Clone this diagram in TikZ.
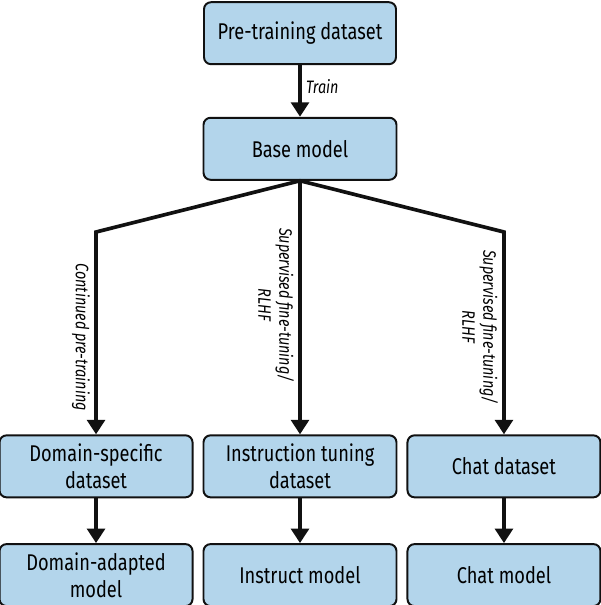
\documentclass[tikz,border=0pt]{standalone}
\usepackage{fontspec}
\setmainfont{Fira Sans}[FakeStretch=0.8]
\usetikzlibrary{positioning,arrows.meta}
\definecolor{llmblue}{HTML}{B3D5EB}
\definecolor{llmink}{HTML}{111111}
\tikzset{
  stage/.style={draw=llmink,fill=llmblue,line width=1.4pt,rounded corners=5pt,minimum height=15.5mm,minimum width=48.25mm,font=\fontsize{16.2}{19.5}\selectfont,align=center,inner sep=1pt},
  flow/.style={-{Triangle[length=3.6mm,width=4.4mm]},line width=2.6pt,draw=llmink},
  how/.style={font=\fontsize{12.8}{15}\selectfont\itshape,align=center,inner sep=3pt},
}
\begin{document}
\begin{tikzpicture}[node distance=12.9mm and 2.25mm]
  \useasboundingbox (0,0) rectangle (15,-15.125);
  \node[stage,minimum width=48mm] (pretrain) at (7.5,-0.83) {Pre-training dataset};
  \node[stage,below=of pretrain] (base) {Base model};
  \node[stage,below=63.4mm of base] (instds) {Instruction tuning\\dataset};
  \node[stage,left=of instds] (domds) {Domain-specific\\dataset};
  \node[stage,right=of instds] (chatds) {Chat dataset};
  \node[stage,below=11.2mm of domds] (dommod) {Domain-adapted\\model};
  \node[stage,below=11.2mm of instds] (instmod) {Instruct model};
  \node[stage,below=11.2mm of chatds] (chatmod) {Chat model};
  % bends of the outer branches
  \coordinate (lbend) at (domds.north |- 0,-5.8);
  \coordinate (rbend) at (chatds.north |- 0,-5.8);
  \draw[flow] (pretrain) -- node[how,right,pos=0.42] {Train} (base);
  \draw[flow] (base.south) -- (lbend) -- node[how,rotate=-90,anchor=north,pos=0.52] {Continued pre-training} (domds.north);
  \draw[flow] (base) -- node[how,rotate=-90,anchor=north,pos=0.49] {Supervised fine-tuning/\\RLHF} (instds);
  \draw[flow] (base.south) -- (rbend) -- node[how,rotate=-90,anchor=north,pos=0.47] {Supervised fine-tuning/\\RLHF} (chatds.north);
  \draw[flow] (domds) -- (dommod);
  \draw[flow] (instds) -- (instmod);
  \draw[flow] (chatds) -- (chatmod);
\end{tikzpicture}
\end{document}
